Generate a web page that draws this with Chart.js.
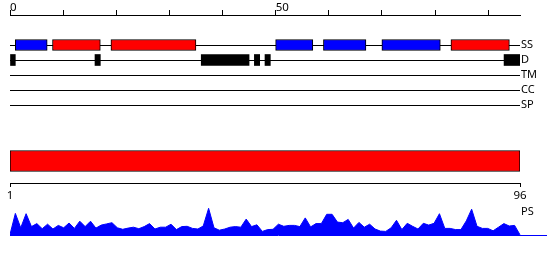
<!DOCTYPE html>
<html>
<head>
<meta charset="utf-8">
<script src="https://cdn.jsdelivr.net/npm/chart.js@4/dist/chart.umd.min.js"></script>
<style>
html,body{margin:0;padding:0;background:#fff;}
#wrap{position:relative;width:550px;height:260px;overflow:hidden;background:#fff;}
canvas{position:absolute;left:0;}
#psLabel{position:absolute;left:521px;top:205px;font-family:'Noto Sans';font-size:11px;line-height:1;color:#000;}
</style>
</head>
<body>
<div id="wrap">
  <canvas id="cTop" width="550" height="120" style="top:0"></canvas>
  <canvas id="cMid" width="550" height="70" style="top:135px"></canvas>
  <canvas id="cPs" width="550" height="45" style="top:200px"></canvas>
  <span id="psLabel">PS</span>
</div>
<script>
// ---------- data ----------
const seqLength = 96;
const trackNames = ['SS', 'D', 'TM', 'CC', 'SP'];
const rulerLabels = [0, 50];
const axisLabels = [1, 96];
// residue ranges (inclusive, 1-based)
const helixSegments = [[2, 7], [51, 57], [60, 67], [71, 81]];      // blue
const strandSegments = [[9, 17], [20, 35], [84, 94]];               // red
const disorderSegments = [[1, 1], [17, 17], [37, 45], [47, 47], [49, 49], [94, 96]];
const tmSegments = [];
const ccSegments = [];
const spSegments = [];
const domainSegments = [[1, 96]];
const psValues = [
  0.02, 0.72, 0.24, 0.71, 0.28, 0.38, 0.21, 0.36, 0.20, 0.32,
  0.24, 0.40, 0.22, 0.46, 0.28, 0.46, 0.23, 0.33, 0.37, 0.41,
  0.24, 0.19, 0.23, 0.26, 0.21, 0.28, 0.38, 0.20, 0.26, 0.26,
  0.36, 0.18, 0.28, 0.29, 0.22, 0.20, 0.30, 0.89, 0.24, 0.16,
  0.20, 0.26, 0.28, 0.26, 0.53, 0.28, 0.34, 0.12, 0.18, 0.19,
  0.36, 0.29, 0.32, 0.32, 0.28, 0.57, 0.27, 0.38, 0.38, 0.69,
  0.69, 0.43, 0.41, 0.52, 0.23, 0.42, 0.26, 0.36, 0.20, 0.13,
  0.12, 0.24, 0.49, 0.18, 0.39, 0.29, 0.20, 0.39, 0.33, 0.39,
  0.71, 0.22, 0.22, 0.18, 0.18, 0.47, 0.86, 0.29, 0.22, 0.22,
  0.14, 0.26, 0.38, 0.30, 0.32, 0.01
];

// ---------- helpers ----------
Chart.defaults.font.family = 'Noto Sans';
Chart.defaults.color = '#000';
const rowLabels = ['', ''].concat(trackNames);
const seg = (list, row) => list.map(s => ({ x: [s[0] - 1, s[1]], y: row }));
const common = {
  responsive: false,
  animation: false,
  events: [],
  plugins: { legend: { display: false }, tooltip: { enabled: false }, title: { display: false } }
};

// ---------- top: ruler + tracks ----------
new Chart(document.getElementById('cTop'), {
  type: 'bar',
  data: {
    labels: rowLabels,
    datasets: [
      { label: 'Helix', data: seg(helixSegments, 'SS'), backgroundColor: '#0000ff', borderColor: '#000', borderWidth: 1, borderSkipped: false },
      { label: 'Strand', data: seg(strandSegments, 'SS'), backgroundColor: '#ff0000', borderColor: '#000', borderWidth: 1, borderSkipped: false },
      { label: 'Disorder', data: seg(disorderSegments, 'D'), backgroundColor: '#000', borderWidth: 0 },
      { label: 'TM', data: seg(tmSegments, 'TM'), backgroundColor: '#000', borderWidth: 0 },
      { label: 'CC', data: seg(ccSegments, 'CC'), backgroundColor: '#000', borderWidth: 0 },
      { label: 'SP', data: seg(spSegments, 'SP'), backgroundColor: '#000', borderWidth: 0 }
    ]
  },
  options: Object.assign({}, common, {
    indexAxis: 'y',
    layout: { padding: { left: 10, right: 0, top: 0, bottom: 15 } },
    datasets: { bar: { barThickness: 11, grouped: false } },
    scales: {
      x: {
        type: 'linear', position: 'top', min: 0, max: seqLength,
        ticks: {
          stepSize: 10, includeBounds: false, autoSkip: false, align: 'start', maxRotation: 0,
          padding: -3, font: { size: 11.5, lineHeight: 1 },
          callback: v => rulerLabels.includes(v) ? String(v) : ''
        },
        grid: { drawOnChartArea: false, drawTicks: true, tickLength: 5, color: '#000' },
        border: { display: true, color: '#000', width: 1 },
        afterFit: s => { s.height = 15; }
      },
      y: {
        type: 'category', position: 'right', offset: false,
        grid: { offset: false, drawTicks: false, lineWidth: 1, color: c => (c.index >= 2 ? '#000' : 'rgba(0,0,0,0)') },
        border: { display: false },
        ticks: { padding: 1, autoSkip: false, font: { size: 11 } },
        afterFit: s => { s.width = 30; }
      }
    }
  })
});

// ---------- middle: domain bar + sequence axis ----------
new Chart(document.getElementById('cMid'), {
  type: 'bar',
  data: {
    labels: ['Domain'],
    datasets: [
      { label: 'Domain', data: domainSegments.map(s => ({ x: [s[0], s[1]], y: 'Domain' })), backgroundColor: '#ff0000', borderColor: '#000', borderWidth: 1, borderSkipped: false, barThickness: 21 }
    ]
  },
  options: Object.assign({}, common, {
    indexAxis: 'y',
    layout: { padding: { left: 10, right: 30, top: 4, bottom: 0 } },
    scales: {
      x: {
        type: 'linear', position: 'bottom', min: axisLabels[0], max: axisLabels[axisLabels.length - 1],
        afterBuildTicks: s => { s.ticks = axisLabels.map(v => ({ value: v })); },
        ticks: { autoSkip: false, maxRotation: 0, padding: 2, font: { size: 11.5 } },
        grid: { drawOnChartArea: false, drawTicks: true, tickLength: 4, color: '#000' },
        border: { display: true, color: '#000', width: 1 },
        afterFit: s => { s.height = 22; }
      },
      y: { display: false }
    }
  })
});

// ---------- bottom: PS profile ----------
new Chart(document.getElementById('cPs'), {
  type: 'line',
  data: {
    datasets: [{
      label: 'PS',
      data: psValues.map((v, i) => ({ x: i + 1, y: v })),
      borderColor: '#0000ff', backgroundColor: '#0000ff', borderWidth: 1,
      fill: 'origin', pointRadius: 0, tension: 0
    }]
  },
  options: Object.assign({}, common, {
    layout: { padding: { left: 10, right: 4, top: 5, bottom: 10 } },
    scales: {
      x: {
        type: 'linear', min: 1, max: 100.85,
        ticks: { display: false },
        grid: { display: false, drawTicks: false },
        border: { display: true, color: '#0000ff', width: 1 }
      },
      y: { display: false, min: 0, max: 1 }
    }
  })
});
</script>
</body>
</html>
